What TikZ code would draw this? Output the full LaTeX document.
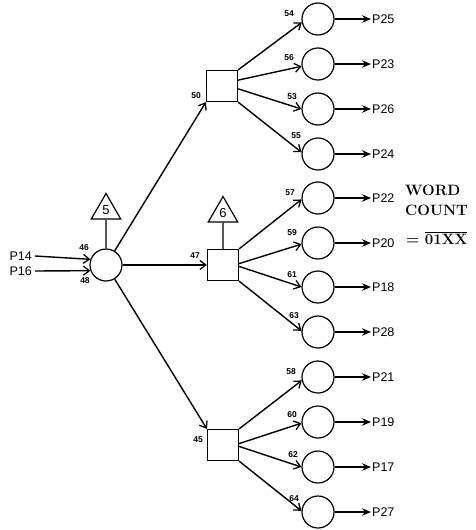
\documentclass[tikz,border=0pt]{standalone}
\usepackage{fontspec}
\setsansfont{Liberation Sans}
\usetikzlibrary{arrows.meta,shapes.geometric}
\begin{document}
\begin{tikzpicture}[x=1pt,y=-1pt,
 every node/.style={inner sep=0pt},
 conn/.style={line width=1.4pt, -{Straight Barb[length=6pt,width=9pt,line width=1.3pt]}},
 outarr/.style={line width=1.1pt, -{Stealth[length=9pt,width=7.5pt,inset=3pt]}},
 plain/.style={line width=1.3pt},
 circ/.style={circle, draw, line width=1.2pt, minimum size=32pt},
 sq/.style={rectangle, draw, line width=1.2pt, minimum size=31pt},
 tri/.style={regular polygon, regular polygon sides=3, draw, line width=1.2pt, minimum size=34pt, font=\sffamily\fontsize{13}{13}\selectfont},
 num/.style={font=\sffamily\bfseries\fontsize{8.5}{9}\selectfont},
 plab/.style={font=\sffamily\fontsize{12.5}{12.5}\selectfont, anchor=west},
 wc/.style={font=\bfseries\fontsize{15}{15}\selectfont, anchor=base west}
]
\useasboundingbox (0,0) rectangle (475,530);

% main circle and inputs
\node[circ] (c) at (106,265) {};
\node[tri] (t5) at (106,210.5) {5};
\draw[plain] (t5.south) -- (c.north);
\node[plab, anchor=east] (p14) at (32,256) {P14};
\node[plab, anchor=east] (p16) at (32,271) {P16};
\draw[conn] (p14.east) ++(3,0) coordinate (p14s) (p14s) -- (c.160);
\draw[conn] (p16.east) ++(3,0) coordinate (p16s) (p16s) -- (c.200);
\node[num] (l46) at (84,248) {46};
\node[num] (l48) at (85,281) {48};

% squares
\node[sq] (s1) at (222,86) {};
\node[sq] (s2) at (223,265) {};
\node[sq] (s3) at (223,445) {};
\node[tri] (t6) at (223,213.5) {6};
\draw[plain] (t6.south) -- (s2.north);
\draw[conn] (c) -- (s1.south west);
\draw[conn] (c) -- (s2);
\draw[conn] (c) -- (s3.north west);
\node[num] (l50) at (196,96) {50};
\node[num] (l47) at (195,256) {47};
\node[num] (l45) at (198,440) {45};

% right circles
\foreach \i/\y/\lx/\ly/\lab/\out in {
 1/19/289/14/54/P25, 2/64/289/58/56/P23, 3/109/292/96.5/53/P26, 4/154/296/136/55/P24,
 5/198/290/193/57/P22, 6/243/292/233/59/P20, 7/287/292/275/61/P18, 8/332/294/316/63/P28,
 9/377/291/372/58/P21, 10/422/292/415/60/P19, 11/467/293/455/62/P17, 12/512/294/499/64/P27}{
 \node[circ] (o\i) at (318,\y) {};
 \node[num] (n\i) at (\lx,\ly) {\lab};
 \node[plab] (p\i) at (372,\y) {\out};
 \draw[outarr] (o\i.east) -- ([xshift=-1pt]p\i.west);
}

% square to circle connectors
\draw[conn] (s1.north east) -- (o1.192);
\draw[conn] (s1.20) -- (o2.188);
\draw[conn] (s1.-10) -- (o3.west);
\draw[conn] (s1.south east) -- (o4.174);
\draw[conn] (s2.north east) -- (o5.185);
\draw[conn] (s2.5) -- (o6.184);
\draw[conn] (s2.-5) -- (o7.west);
\draw[conn] (s2.south east) -- (o8.176);
\draw[conn] (s3.north east) -- (o9.192);
\draw[conn] (s3.5) -- (o10.184);
\draw[conn] (s3.-5) -- (o11.west);
\draw[conn] (s3.south east) -- (o12.176);

% word count
\node[wc] (w1) at (405,195) {WORD};
\node[wc] (w2) at (405,215) {COUNT};
\node[wc] (w3) at (406,244) {= $\overline{\mbox{01XX}}$};
\end{tikzpicture}
\end{document}
